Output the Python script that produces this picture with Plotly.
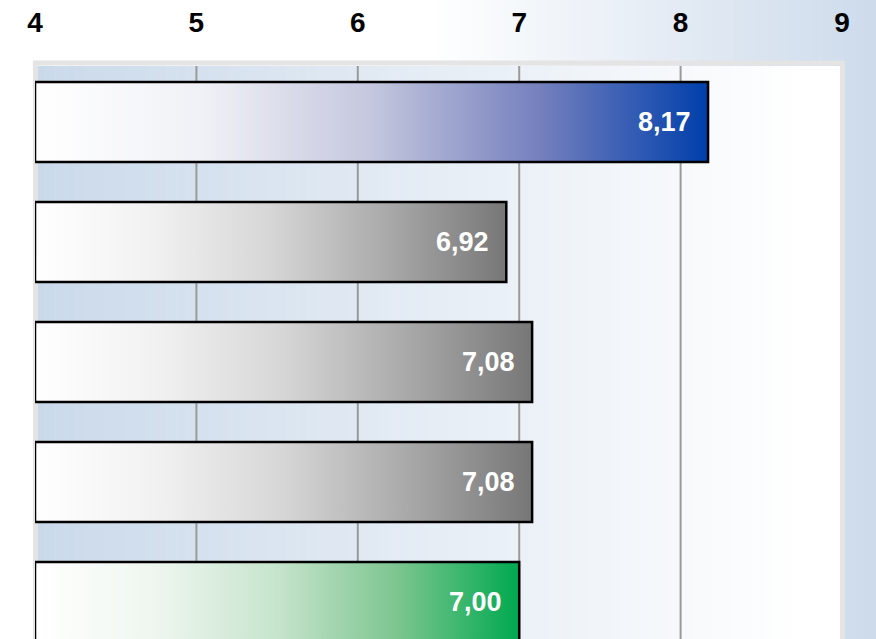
import plotly.graph_objects as go

# ---- data ----
values = [8.17, 6.92, 7.08, 7.08, 7.00]
labels = ["8,17", "6,92", "7,08", "7,08", "7,00"]
tick_vals = [4, 5, 6, 7, 8, 9]
tick_text = ["4", "5", "6", "7", "8", "9"]
bar_scales = [
    [[0, "#ffffff"], [0.25, "#f0f1f6"], [0.5, "#c4c7de"], [0.75, "#7580bd"], [1, "#003fab"]],
    [[0, "#ffffff"], [0.25, "#f1f1f1"], [0.5, "#d6d6d6"], [0.75, "#a9a9a9"], [1, "#777777"]],
    [[0, "#ffffff"], [0.25, "#f1f1f1"], [0.5, "#d6d6d6"], [0.75, "#a9a9a9"], [1, "#777777"]],
    [[0, "#ffffff"], [0.25, "#f1f1f1"], [0.5, "#d6d6d6"], [0.75, "#a9a9a9"], [1, "#777777"]],
    [[0, "#ffffff"], [0.25, "#eef6ef"], [0.5, "#c6e4cc"], [0.75, "#7cc58f"], [1, "#00a94f"]],
]

W, H = 876, 639
ML, MR, MT, MB = 35, 34, 66, 0
PW, PH = W - ML - MR, H - MT - MB
FONT = "Liberation Sans Narrow, Arial Narrow, Liberation Sans, Arial, sans-serif"

XMIN, XMAX = tick_vals[0], tick_vals[-1]
half = 1 / 3
y_top = -56 / 120
y_bot = y_top + PH / 120


def lerp(c1, c2, t):
    return tuple(round(a + (b - a) * t) for a, b in zip(c1, c2))


shapes = []
# paper background gradient (horizontal): white -> light steel blue
N = 80
p_left = -ML / PW
p_right = (W - ML) / PW
white = (255, 255, 255)
pblue = (205, 219, 235)
for k in range(N):
    x0 = p_left + (p_right - p_left) * k / N
    x1 = p_left + (p_right - p_left) * (k + 1.05) / N
    px = W * (k + 0.5) / N
    t = max(0.0, (px - 430) / (W - 430))
    c = lerp(white, pblue, t)
    shapes.append(dict(type="rect", xref="paper", yref="paper", x0=x0, x1=x1,
                       y0=0, y1=H / PH + 0.01, line=dict(width=0),
                       fillcolor="rgb(%d,%d,%d)" % c, layer="below"))
# plot area gradient
bgl = (202, 217, 234)
for k in range(N):
    x0 = k / N
    x1 = min(1.0, (k + 1.05) / N)
    t = (k + 0.5) / N
    c = lerp(bgl, white, min(1.0, t * 1.05))
    shapes.append(dict(type="rect", xref="paper", yref="paper", x0=x0, x1=x1,
                       y0=0, y1=1, line=dict(width=0),
                       fillcolor="rgb(%d,%d,%d)" % c, layer="below"))
# frame
shapes.append(dict(type="rect", xref="paper", yref="paper", x0=0.0005, x1=1.0005,
                   y0=-0.05, y1=1 + 3 / PH, line=dict(color="#e4e4e4", width=5),
                   fillcolor="rgba(0,0,0,0)", layer="below"))
# gridlines
for v in tick_vals[1:-1]:
    shapes.append(dict(type="line", xref="x", yref="paper", x0=v, x1=v, y0=0, y1=1,
                       line=dict(color="#9a9a9a", width=2), layer="below"))

fig = go.Figure()
annotations = []
for i, (v, lab, cs) in enumerate(zip(values, labels, bar_scales)):
    fig.add_trace(go.Scatter(
        x=[XMIN, v, v, XMIN, XMIN],
        y=[i - half, i - half, i + half, i + half, i - half],
        mode="lines", fill="toself",
        fillgradient=dict(type="horizontal", colorscale=cs),
        line=dict(color="#000000", width=2.5),
        hoverinfo="skip", showlegend=False,
    ))
    annotations.append(dict(x=v, y=i, xref="x", yref="y", text="<b>%s</b>" % lab,
                            showarrow=False, xanchor="right", yanchor="middle",
                            xshift=-15, font=dict(family=FONT, size=27, color="#ffffff")))

fig.update_layout(
    width=W, height=H,
    margin=dict(l=ML, r=MR, t=MT, b=MB, pad=0),
    paper_bgcolor="#ffffff", plot_bgcolor="rgba(0,0,0,0)",
    shapes=shapes, annotations=annotations,
    xaxis=dict(range=[XMIN, XMAX], side="top", tickvals=tick_vals,
               ticktext=["<b>%s</b>" % t for t in tick_text],
               tickfont=dict(family=FONT, size=28, color="#000000"),
               showgrid=False, zeroline=False, showline=False, ticks="",
               fixedrange=True, ticklabelstandoff=27),
    yaxis=dict(range=[y_bot, y_top], showgrid=False, zeroline=False,
               showticklabels=False, showline=False, ticks="", fixedrange=True),
)
fig.write_html("out.html", config={"displayModeBar": False},
               post_script="document.body.style.margin='0px';document.body.style.overflow='hidden';")
